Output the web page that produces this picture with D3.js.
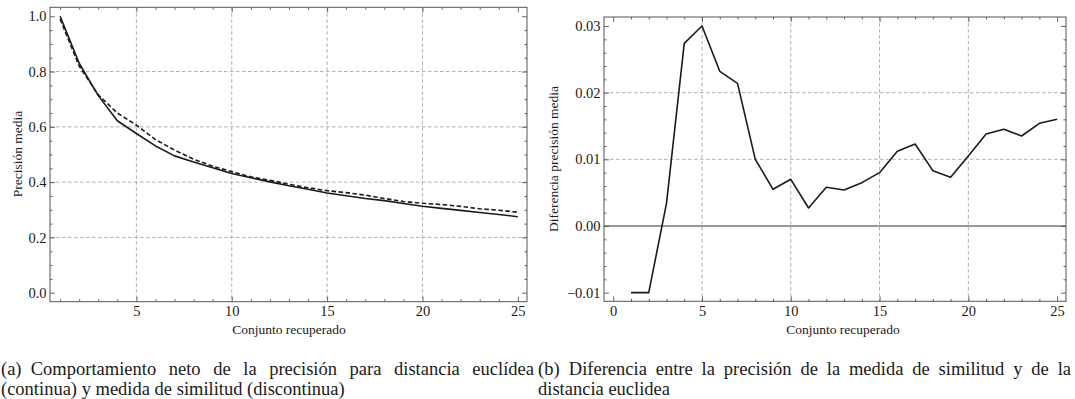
<!DOCTYPE html>
<html><head><meta charset="utf-8">
<script src="https://cdn.jsdelivr.net/npm/d3@7"></script>
<style>
html,body{margin:0;padding:0;background:#fff;}
</style></head>
<body><svg id="c" width="1075" height="399"></svg>
<script>
// ---- data ----
const recovered = [1,2,3,4,5,6,7,8,9,10,11,12,13,14,15,16,17,18,19,20,21,22,23,24,25];
const euclidean = [1.0,0.83,0.713,0.622,0.576,0.531,0.495,0.473,0.452,0.431,0.416,0.401,0.387,0.374,0.361,0.351,0.341,0.333,0.323,0.313,0.305,0.298,0.290,0.283,0.275];
const similarity = [0.99,0.82,0.716,0.650,0.606,0.554,0.516,0.483,0.4575,0.438,0.419,0.407,0.392,0.380,0.369,0.362,0.353,0.341,0.330,0.3235,0.319,0.3125,0.3035,0.2985,0.291];
const difference = [-0.01,-0.01,0.0034,0.0274,0.0300,0.0232,0.0214,0.0100,0.0055,0.0070,0.0027,0.0058,0.0054,0.0065,0.0080,0.0112,0.0123,0.0083,0.0073,0.0105,0.0138,0.0145,0.0135,0.0154,0.0160];
const xTicksMajor = [5,10,15,20,25];
const xTicksMajorB = [0,5,10,15,20,25];
const yTicksA = [0.0,0.2,0.4,0.6,0.8,1.0];
const yTicksB = [-0.01,0.0,0.01,0.02,0.03];
const xLabel = "Conjunto recuperado";
const yLabelA = "Precisión media";
const yLabelB = "Diferencia precisión media";
const captionA = ["(a)\u2002Comportamiento neto de la precisión para distancia euclídea","(continua) y medida de similitud (discontinua)"];
const captionB = ["(b)\u2002Diferencia entre la precisión de la medida de similitud y de la","distancia euclidea"];

const FONT = '"Liberation Serif","Times New Roman",serif';
const svg = d3.select("#c");
const FRAME = "#555", GRID = "#9a9a9a", LINE = "#1a1a1a";

function txt(sel, size){
  return sel.style("font-family",FONT).style("font-size",size+"px").style("fill","#1a1a1a");
}

function panel(o){
  const g = svg.append("g");
  const x = d3.scaleLinear().domain(o.xd).range([o.l,o.r]);
  const y = d3.scaleLinear().domain(o.yd).range([o.b,o.t]);
  g.selectAll(".gx").data(o.gridX).join("line")
    .attr("x1",d=>x(d)).attr("x2",d=>x(d)).attr("y1",o.t).attr("y2",o.b)
    .attr("stroke",GRID).attr("stroke-width",0.8).attr("stroke-dasharray","3.5,2.5");
  g.selectAll(".gy").data(o.gridY).join("line")
    .attr("y1",d=>y(d)).attr("y2",d=>y(d)).attr("x1",o.l).attr("x2",o.r)
    .attr("stroke",GRID).attr("stroke-width",0.8).attr("stroke-dasharray","3.5,2.5");
  if(o.zero){
    g.append("line").attr("x1",o.l).attr("x2",o.r).attr("y1",y(0)).attr("y2",y(0))
      .attr("stroke","#333").attr("stroke-width",1.1);
  }
  const xMin = d3.range(Math.ceil(o.xd[0]),Math.floor(o.xd[1])+1).filter(v=>!o.xMaj.some(m=>Math.abs(m-v)<1e-9));
  const yMin = d3.range(Math.ceil(o.yd[0]/o.yStep),Math.floor(o.yd[1]/o.yStep)+1).map(k=>k*o.yStep)
     .filter(v=>!o.yMaj.some(m=>Math.abs(m-v)<1e-9));
  const axes = [
    [d3.axisBottom(x).tickValues(o.xMaj).tickSize(-5).tickPadding(4).tickFormat(d3.format("d")), `translate(0,${o.b})`],
    [d3.axisBottom(x).tickValues(xMin).tickSize(-2.5).tickFormat(""), `translate(0,${o.b})`],
    [d3.axisTop(x).tickValues(o.xMaj).tickSize(-5).tickFormat(""), `translate(0,${o.t})`],
    [d3.axisTop(x).tickValues(xMin).tickSize(-2.5).tickFormat(""), `translate(0,${o.t})`],
    [d3.axisLeft(y).tickValues(o.yMaj).tickSize(-5).tickPadding(3.5).tickFormat(o.yFmt), `translate(${o.l},0)`],
    [d3.axisLeft(y).tickValues(yMin).tickSize(-2.5).tickFormat(""), `translate(${o.l},0)`],
    [d3.axisRight(y).tickValues(o.yMaj).tickSize(-5).tickFormat(""), `translate(${o.r},0)`],
    [d3.axisRight(y).tickValues(yMin).tickSize(-2.5).tickFormat(""), `translate(${o.r},0)`]
  ];
  axes.forEach(([ax,tr])=>{
    const a = g.append("g").attr("transform",tr).call(ax);
    a.select(".domain").remove();
    a.selectAll("line").attr("stroke",FRAME).attr("stroke-width",0.9);
    txt(a.selectAll("text"),14.5);
  });
  o.series.forEach(s=>{
    g.append("path").datum(recovered.map((r,i)=>[r,s.v[i]]))
      .attr("fill","none").attr("stroke",LINE).attr("stroke-width",1.6)
      .attr("stroke-dasharray",s.dash||null).attr("stroke-linejoin","round")
      .attr("d",d3.line().x(d=>x(d[0])).y(d=>y(d[1])));
  });
  g.append("rect").attr("x",o.l).attr("y",o.t).attr("width",o.r-o.l).attr("height",o.b-o.t)
    .attr("fill","none").attr("stroke",FRAME).attr("stroke-width",1);
  txt(g.append("text").attr("x",o.xlx).attr("y",334).attr("text-anchor","middle"),13.5).text(xLabel);
  txt(g.append("text").attr("transform",`translate(${o.ylx},${o.yly}) rotate(-90)`).attr("text-anchor","middle"),13.5).text(o.ylab);
}

panel({xd:[0.47,25.48], yd:[-0.0325,1.0325], l:50, r:527, t:7.3, b:301.7,
  xMaj:xTicksMajor, yMaj:yTicksA, yStep:0.05, yFmt:d3.format(".1f"),
  gridX:[5,10,15,20], gridY:[0.2,0.4,0.6,0.8], zero:false,
  series:[{v:euclidean},{v:similarity,dash:"4.5,2.5"}],
  xlx:289, ylx:22, yly:154, ylab:yLabelA});

panel({xd:[-0.52,25.5], yd:[-0.0113,0.03135], l:604, r:1066, t:17, b:301.3,
  xMaj:xTicksMajorB, yMaj:yTicksB, yStep:0.002, yFmt:d=>d3.format(".2f")(d).replace("-","\u2212"),
  gridX:[5,10,15,20], gridY:[0.01,0.02], zero:true,
  series:[{v:difference}],
  xlx:843, ylx:558, yly:159, ylab:yLabelB});

// captions: first line justified to the column width (as in the LaTeX original)
const cap = svg.append("g");
function caption(lines, x0, width){
  lines.forEach((t,i)=>{
    const el = txt(cap.append("text").attr("x",x0).attr("y",375+i*19.5),18.5).text(t);
    if(i===0){
      const len = el.node().getComputedTextLength();
      const spaces = (t.match(/ /g)||[]).length;
      if(spaces>0 && len<width) el.style("word-spacing",((width-len)/spaces)+"px");
    }
  });
}
caption(captionA, 1, 533);
caption(captionB, 538, 533);
</script></body></html>
